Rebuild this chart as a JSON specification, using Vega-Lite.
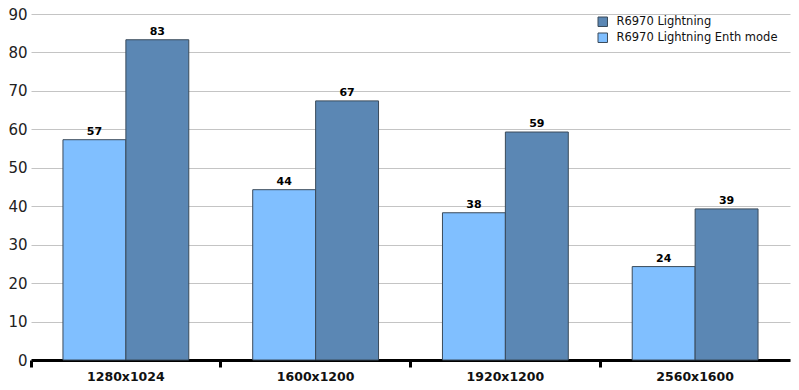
{
  "$schema": "https://vega.github.io/schema/vega-lite/v6.json",
  "width": 759,
  "height": 346,
  "autosize": "none",
  "padding": {"left": 31, "top": 14, "right": 9, "bottom": 30},
  "background": "white",
  "config": {
    "view": {"stroke": null},
    "font": "DejaVu Sans"
  },
  "data": {
    "values": [
      {"res": "1280x1024", "series": "R6970 Lightning Enth mode", "fps": 57.3},
      {"res": "1280x1024", "series": "R6970 Lightning", "fps": 83.3},
      {"res": "1600x1200", "series": "R6970 Lightning Enth mode", "fps": 44.3},
      {"res": "1600x1200", "series": "R6970 Lightning", "fps": 67.4},
      {"res": "1920x1200", "series": "R6970 Lightning Enth mode", "fps": 38.3},
      {"res": "1920x1200", "series": "R6970 Lightning", "fps": 59.3},
      {"res": "2560x1600", "series": "R6970 Lightning Enth mode", "fps": 24.3},
      {"res": "2560x1600", "series": "R6970 Lightning", "fps": 39.3}
    ]
  },
  "encoding": {
    "x": {
      "field": "res",
      "type": "nominal",
      "sort": null,
      "scale": {"paddingInner": 0, "paddingOuter": 0},
      "axis": {
        "title": null,
        "labelAngle": 0,
        "bandPosition": 0,
        "labelFont": "DejaVu Sans",
        "labelFontWeight": "bold",
        "labelFontSize": 12.5,
        "labelColor": "#111",
        "labelPadding": 3,
        "domainColor": "#000",
        "domainWidth": 3,
        "tickColor": "#000",
        "tickWidth": 3,
        "tickSize": 7,
        "grid": false
      }
    },
    "xOffset": {
      "field": "series",
      "type": "nominal",
      "sort": ["R6970 Lightning Enth mode", "R6970 Lightning"],
      "scale": {"paddingInner": 0, "paddingOuter": 0.508}
    },
    "y": {
      "field": "fps",
      "type": "quantitative",
      "scale": {"domain": [0, 90], "nice": false},
      "axis": {
        "title": null,
        "values": [0, 10, 20, 30, 40, 50, 60, 70, 80, 90],
        "domain": false,
        "ticks": false,
        "labelFont": "DejaVu Sans",
        "labelFontSize": 15,
        "labelColor": "#222",
        "labelPadding": 4,
        "gridColor": "#c4c4c4",
        "gridWidth": 1
      }
    }
  },
  "layer": [
    {
      "mark": {"type": "bar", "stroke": "#3a4a5a", "strokeWidth": 1},
      "encoding": {
        "color": {
          "field": "series",
          "type": "nominal",
          "scale": {
            "domain": ["R6970 Lightning", "R6970 Lightning Enth mode"],
            "range": ["#5b87b4", "#80bfff"]
          },
          "legend": {
            "title": null,
            "orient": "none",
            "legendX": 566,
            "legendY": 2,
            "symbolType": "square",
            "symbolSize": 90,
            "symbolStrokeColor": "#3a4a5a",
            "symbolStrokeWidth": 1,
            "labelFont": "DejaVu Sans",
            "labelFontSize": 11.5,
            "labelLimit": 400,
            "labelColor": "#111",
            "rowPadding": 2,
            "labelOffset": 8
          }
        }
      }
    },
    {
      "mark": {"type": "text", "dy": -8, "fontWeight": "bold", "fontSize": 11, "font": "DejaVu Sans", "color": "#000"},
      "encoding": {
        "text": {"field": "fps", "type": "quantitative", "format": ".0f"}
      }
    }
  ]
}
